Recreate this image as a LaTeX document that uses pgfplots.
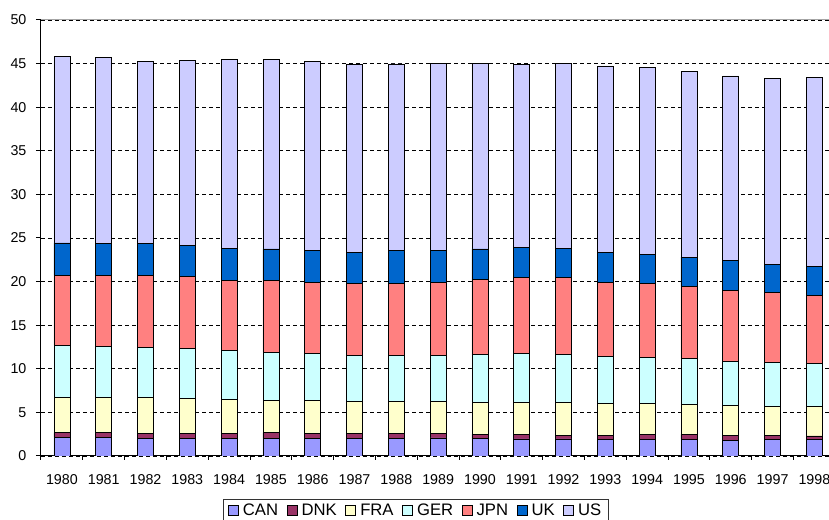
\documentclass[border=0pt]{standalone}
\usepackage{fontspec}
\setmainfont{Liberation Sans}
\usepackage{pgfplots}
\pgfplotsset{compat=1.18}
\usepackage{pgfplotstable}

\pgfplotstableread{
x CAN DNK FRA GER JPN UK US
0 2.14 0.54 4.02 6.01 8.04 3.68 21.37
1 2.14 0.54 4.02 5.82 8.23 3.60 21.35
2 2.03 0.54 4.13 5.74 8.31 3.60 20.88
3 2.03 0.54 4.02 5.70 8.27 3.56 21.23
4 2.03 0.54 3.90 5.63 8.04 3.63 21.69
5 2.03 0.65 3.68 5.51 8.27 3.60 21.72
6 2.03 0.54 3.79 5.43 8.16 3.63 21.65
7 2.03 0.54 3.71 5.28 8.19 3.64 21.53
8 2.03 0.54 3.71 5.28 8.27 3.75 21.38
9 2.07 0.53 3.64 5.25 8.46 3.60 21.45
10 2.03 0.46 3.67 5.44 8.60 3.54 21.26
11 1.95 0.54 3.67 5.56 8.80 3.41 20.99
12 1.95 0.42 3.72 5.59 8.76 3.41 21.15
13 1.91 0.46 3.64 5.40 8.54 3.40 21.38
14 1.91 0.58 3.52 5.28 8.46 3.37 21.48
15 1.91 0.58 3.37 5.32 8.27 3.37 21.28
16 1.80 0.57 3.41 5.09 8.16 3.37 21.18
17 1.91 0.43 3.33 5.01 8.08 3.25 21.26
18 1.91 0.39 3.37 4.97 7.81 3.30 21.63
}\data

\definecolor{cCAN}{HTML}{9999FF}
\definecolor{cDNK}{HTML}{993366}
\definecolor{cFRA}{HTML}{FFFFCC}
\definecolor{cGER}{HTML}{CCFFFF}
\definecolor{cJPN}{HTML}{FF8080}
\definecolor{cUK}{HTML}{0066CC}
\definecolor{cUS}{HTML}{CCCCFF}

\begin{document}
\begin{tikzpicture}
\begin{axis}[
  scale only axis, width=591pt, height=327pt,
  ybar stacked, bar width=12pt,
  xmin=-0.5, xmax=18.35, ymin=0, ymax=50,
  xtick={0,...,18},
  xticklabels={1980,1981,1982,1983,1984,1985,1986,1987,1988,1989,1990,1991,1992,1993,1994,1995,1996,1997,1998},
  ytick={0,5,...,50},
  axis x line*=bottom, axis y line*=left,
  axis line style={black, line width=0.75pt, -},
  ymajorgrids, grid style={black, dash pattern=on 3pt off 2.25pt, line width=0.6pt},
  tick align=outside, major tick length=3.75pt,
  major x tick style={draw=none},
  minor xtick={-0.5,0.5,...,18.5}, minor tick length=3pt,
  minor x tick style={black, line width=0.75pt},
  y tick style={black, line width=0.75pt},
  /pgf/number format/assume math mode=true,
  tick label style={font=\fontsize{10.7}{12}\selectfont},
  xticklabel style={anchor=north, inner sep=0pt, yshift=-10pt},
  yticklabel style={anchor=east, inner sep=0pt, xshift=-7pt},
  legend style={at={(0.476,-0.0986)}, anchor=north, legend columns=-1,
    draw=black!80, line width=0.6pt, font=\fontsize{12.5}{14}\selectfont,
    inner xsep=3.5pt, inner ysep=1.5pt,
    /tikz/every even column/.append style={column sep=4.5pt}},
  legend image code/.code={\draw[#1,line width=0.6pt] (0pt,-3.75pt) rectangle (7.5pt,3.75pt);
    \path (8.5pt,0pt);},
]
\addplot[fill=cCAN, draw=black, line width=0.6pt] table[x=x,y=CAN]{\data};
\addplot[fill=cDNK, draw=black, line width=0.6pt] table[x=x,y=DNK]{\data};
\addplot[fill=cFRA, draw=black, line width=0.6pt] table[x=x,y=FRA]{\data};
\addplot[fill=cGER, draw=black, line width=0.6pt] table[x=x,y=GER]{\data};
\addplot[fill=cJPN, draw=black, line width=0.6pt] table[x=x,y=JPN]{\data};
\addplot[fill=cUK, draw=black, line width=0.6pt] table[x=x,y=UK]{\data};
\addplot[fill=cUS, draw=black, line width=0.6pt] table[x=x,y=US]{\data};
\legend{CAN,DNK,FRA,GER,JPN,UK,US}
\draw[gray!70, line width=0.75pt] (rel axis cs:0,1) -- (rel axis cs:1,1);
\coordinate (sw) at (rel axis cs:0,0);
\coordinate (ne) at (rel axis cs:1,1);
\end{axis}
\pgfresetboundingbox
\path ([xshift=-30.75pt,yshift=-48pt]sw) rectangle ([yshift=15pt]ne);
\end{tikzpicture}
\end{document}
